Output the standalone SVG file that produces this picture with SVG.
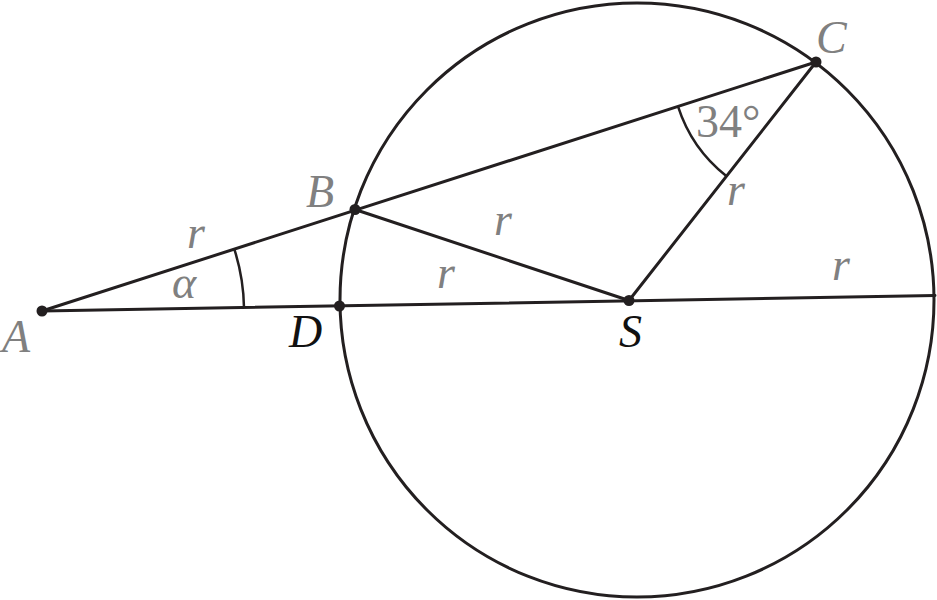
<svg xmlns="http://www.w3.org/2000/svg" width="937" height="600" viewBox="0 0 937 600">
<style>
.ln{fill:none;stroke:#231f20;stroke-width:3;stroke-linecap:round}
.arc{fill:none;stroke:#231f20;stroke-width:2.5}
.pt{fill:#231f20}
text{font-family:'Liberation Serif','DejaVu Serif',serif;font-size:46px}
.lbl{font-style:italic}
.g{fill:#808080}
.k{fill:#111}
.num{fill:#808080}
</style>
<rect width="937" height="600" fill="#fff"/>
<g id="circle"><circle cx="637" cy="300" r="297" class="ln"/></g>
<g id="connectors">
<line x1="42" y1="311" x2="935" y2="295.5" class="ln"/>
<line x1="42" y1="311" x2="816" y2="62" class="ln"/>
<line x1="355" y1="209.5" x2="629" y2="300.5" class="ln"/>
<line x1="629" y1="300.5" x2="816" y2="62" class="ln"/>
<path d="M234.3 249.1 A202 202 0 0 1 244 307.6" class="arc"/>
<path d="M678 106.4 A145 145 0 0 0 726.3 176" class="arc"/>
</g>
<g id="A"><circle cx="42" cy="311" r="5.5" class="pt"/><text x="2" y="352" class="lbl g">A</text></g>
<g id="B"><circle cx="355" cy="209.5" r="5.5" class="pt"/><text x="306" y="207" class="lbl g">B</text></g>
<g id="C"><circle cx="816" cy="62" r="5.5" class="pt"/><text x="816" y="53" class="lbl g">C</text></g>
<g id="D"><circle cx="339.5" cy="306" r="5.5" class="pt"/><text x="289" y="347" class="lbl k">D</text></g>
<g id="S"><circle cx="629" cy="300.5" r="5.5" class="pt"/><text x="619" y="347" class="lbl k">S</text></g>
<g id="labels">
<text x="187" y="248" class="lbl g">r</text>
<text x="172" y="298" class="lbl g">α</text>
<text x="494" y="235" class="lbl g">r</text>
<text x="437" y="288" class="lbl g">r</text>
<text x="727" y="205" class="lbl g">r</text>
<text x="832" y="280" class="lbl g">r</text>
<text x="696" y="137" class="num">34°</text>
</g>
</svg>
